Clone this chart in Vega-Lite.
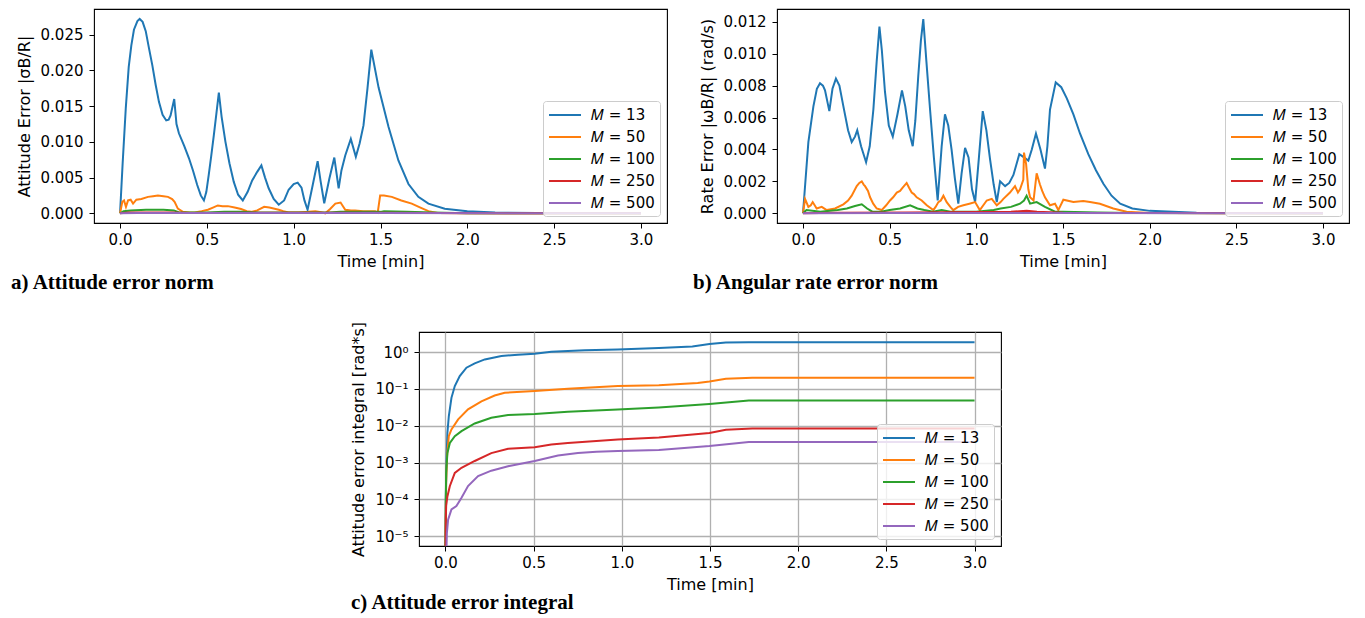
{
"$schema":"https://vega.github.io/schema/vega-lite/v6.json",
"background":"white",
"padding":{"left":10,"top":8,"right":5,"bottom":0},
"spacing":26,
"resolve":{"scale":{"color":"independent"},"legend":{"color":"independent"}},
"datasets":{
"a":[
{"s":"13","t":0,"v":0},{"s":"13","t":0.015,"v":0.007},{"s":"13","t":0.033,"v":0.0147},{"s":"13","t":0.05,"v":0.0205},{"s":"13","t":0.065,"v":0.0235},{"s":"13","t":0.08,"v":0.0257},{"s":"13","t":0.1,"v":0.0269},{"s":"13","t":0.113,"v":0.0272},{"s":"13","t":0.13,"v":0.0268},{"s":"13","t":0.148,"v":0.0255},{"s":"13","t":0.166,"v":0.0232},{"s":"13","t":0.186,"v":0.0207},{"s":"13","t":0.205,"v":0.018},{"s":"13","t":0.224,"v":0.0156},{"s":"13","t":0.245,"v":0.0138},{"s":"13","t":0.266,"v":0.013},{"s":"13","t":0.28,"v":0.0131},{"s":"13","t":0.291,"v":0.0137},{"s":"13","t":0.312,"v":0.016},{"s":"13","t":0.325,"v":0.0125},{"s":"13","t":0.339,"v":0.0112},{"s":"13","t":0.37,"v":0.0094},{"s":"13","t":0.397,"v":0.0077},{"s":"13","t":0.42,"v":0.006},{"s":"13","t":0.444,"v":0.004},{"s":"13","t":0.465,"v":0.0025},{"s":"13","t":0.483,"v":0.0018},{"s":"13","t":0.497,"v":0.003},{"s":"13","t":0.511,"v":0.0054},{"s":"13","t":0.525,"v":0.008},{"s":"13","t":0.54,"v":0.0109},{"s":"13","t":0.555,"v":0.014},{"s":"13","t":0.569,"v":0.0169},{"s":"13","t":0.585,"v":0.0135},{"s":"13","t":0.607,"v":0.01},{"s":"13","t":0.63,"v":0.007},{"s":"13","t":0.655,"v":0.0044},{"s":"13","t":0.68,"v":0.0026},{"s":"13","t":0.707,"v":0.0018},{"s":"13","t":0.735,"v":0.003},{"s":"13","t":0.761,"v":0.0046},{"s":"13","t":0.79,"v":0.0058},{"s":"13","t":0.814,"v":0.0067},{"s":"13","t":0.835,"v":0.005},{"s":"13","t":0.856,"v":0.0035},{"s":"13","t":0.885,"v":0.002},{"s":"13","t":0.914,"v":0.0012},{"s":"13","t":0.945,"v":0.0018},{"s":"13","t":0.971,"v":0.0033},{"s":"13","t":1.0,"v":0.0041},{"s":"13","t":1.023,"v":0.0043},{"s":"13","t":1.045,"v":0.0036},{"s":"13","t":1.062,"v":0.0018},{"s":"13","t":1.08,"v":0.0005},{"s":"13","t":1.11,"v":0.004},{"s":"13","t":1.138,"v":0.0073},{"s":"13","t":1.155,"v":0.0045},{"s":"13","t":1.176,"v":0.0014},{"s":"13","t":1.205,"v":0.0048},{"s":"13","t":1.234,"v":0.0078},{"s":"13","t":1.259,"v":0.0035},{"s":"13","t":1.275,"v":0.006},{"s":"13","t":1.297,"v":0.0081},{"s":"13","t":1.329,"v":0.0104},{"s":"13","t":1.358,"v":0.0079},{"s":"13","t":1.38,"v":0.0098},{"s":"13","t":1.402,"v":0.0123},{"s":"13","t":1.425,"v":0.0175},{"s":"13","t":1.447,"v":0.0229},{"s":"13","t":1.489,"v":0.0176},{"s":"13","t":1.546,"v":0.0121},{"s":"13","t":1.603,"v":0.0074},{"s":"13","t":1.661,"v":0.0041},{"s":"13","t":1.718,"v":0.0023},{"s":"13","t":1.776,"v":0.00135},{"s":"13","t":1.87,"v":0.00065},{"s":"13","t":2.0,"v":0.0003},{"s":"13","t":2.16,"v":0.0001},{"s":"13","t":2.4,"v":0.00003},{"s":"13","t":3.0,"v":0},
{"s":"50","t":0,"v":0},{"s":"50","t":0.013,"v":0.0016},{"s":"50","t":0.023,"v":0.0018},{"s":"50","t":0.034,"v":0.0009},{"s":"50","t":0.046,"v":0.0018},{"s":"50","t":0.061,"v":0.0019},{"s":"50","t":0.075,"v":0.00135},{"s":"50","t":0.094,"v":0.0019},{"s":"50","t":0.123,"v":0.002},{"s":"50","t":0.161,"v":0.0023},{"s":"50","t":0.19,"v":0.0024},{"s":"50","t":0.218,"v":0.0025},{"s":"50","t":0.25,"v":0.0024},{"s":"50","t":0.276,"v":0.0023},{"s":"50","t":0.3,"v":0.002},{"s":"50","t":0.314,"v":0.0016},{"s":"50","t":0.333,"v":0.00065},{"s":"50","t":0.362,"v":0.0002},{"s":"50","t":0.4,"v":0.0001},{"s":"50","t":0.429,"v":0.0001},{"s":"50","t":0.47,"v":0.0003},{"s":"50","t":0.506,"v":0.0005},{"s":"50","t":0.535,"v":0.0008},{"s":"50","t":0.563,"v":0.0011},{"s":"50","t":0.59,"v":0.001},{"s":"50","t":0.621,"v":0.001},{"s":"50","t":0.66,"v":0.0008},{"s":"50","t":0.697,"v":0.0006},{"s":"50","t":0.73,"v":0.0003},{"s":"50","t":0.755,"v":0.0002},{"s":"50","t":0.79,"v":0.0004},{"s":"50","t":0.83,"v":0.0009},{"s":"50","t":0.86,"v":0.0008},{"s":"50","t":0.914,"v":0.0005},{"s":"50","t":0.94,"v":0.0003},{"s":"50","t":0.971,"v":0.0001},{"s":"50","t":1.03,"v":0.0001},{"s":"50","t":1.086,"v":0.0002},{"s":"50","t":1.125,"v":0.0003},{"s":"50","t":1.15,"v":0.0002},{"s":"50","t":1.182,"v":0.0},{"s":"50","t":1.21,"v":0.0006},{"s":"50","t":1.24,"v":0.00135},{"s":"50","t":1.27,"v":0.0015},{"s":"50","t":1.297,"v":0.0005},{"s":"50","t":1.33,"v":0.0004},{"s":"50","t":1.354,"v":0.0004},{"s":"50","t":1.4,"v":0.0003},{"s":"50","t":1.469,"v":0.0003},{"s":"50","t":1.484,"v":0.0001},{"s":"50","t":1.498,"v":0.0025},{"s":"50","t":1.52,"v":0.0025},{"s":"50","t":1.565,"v":0.0023},{"s":"50","t":1.62,"v":0.0018},{"s":"50","t":1.68,"v":0.00135},{"s":"50","t":1.73,"v":0.0008},{"s":"50","t":1.776,"v":0.0003},{"s":"50","t":1.83,"v":0.00005},{"s":"50","t":2.0,"v":0.00001},{"s":"50","t":3.0,"v":0},
{"s":"100","t":0,"v":0},{"s":"100","t":0.02,"v":0.0003},{"s":"100","t":0.06,"v":0.0004},{"s":"100","t":0.15,"v":0.0005},{"s":"100","t":0.25,"v":0.0005},{"s":"100","t":0.31,"v":0.0004},{"s":"100","t":0.34,"v":0.00012},{"s":"100","t":0.5,"v":0.0001},{"s":"100","t":0.6,"v":0.0002},{"s":"100","t":0.7,"v":0.0002},{"s":"100","t":0.8,"v":0.0001},{"s":"100","t":1.0,"v":0.0001},{"s":"100","t":1.2,"v":0.0001},{"s":"100","t":1.27,"v":0.0002},{"s":"100","t":1.5,"v":0.0002},{"s":"100","t":1.52,"v":0.0003},{"s":"100","t":1.65,"v":0.0002},{"s":"100","t":1.8,"v":0.0001},{"s":"100","t":2.0,"v":0.00002},{"s":"100","t":3.0,"v":0},
{"s":"250","t":0,"v":0},{"s":"250","t":0.05,"v":0.0001},{"s":"250","t":0.3,"v":0.0001},{"s":"250","t":0.4,"v":0.00005},{"s":"250","t":1.5,"v":0.00008},{"s":"250","t":1.8,"v":0.00003},{"s":"250","t":3.0,"v":0},
{"s":"500","t":0,"v":0},{"s":"500","t":0.1,"v":0.00003},{"s":"500","t":1.5,"v":0.00003},{"s":"500","t":3.0,"v":0}
],
"b":[
{"s":"13","t":0,"v":0},{"s":"13","t":0.031,"v":0.00446},{"s":"13","t":0.06,"v":0.0067},{"s":"13","t":0.08,"v":0.0078},{"s":"13","t":0.098,"v":0.00815},{"s":"13","t":0.115,"v":0.008},{"s":"13","t":0.127,"v":0.0077},{"s":"13","t":0.152,"v":0.0064},{"s":"13","t":0.17,"v":0.0078},{"s":"13","t":0.19,"v":0.00844},{"s":"13","t":0.21,"v":0.008},{"s":"13","t":0.233,"v":0.0067},{"s":"13","t":0.26,"v":0.0052},{"s":"13","t":0.281,"v":0.00446},{"s":"13","t":0.3,"v":0.0048},{"s":"13","t":0.313,"v":0.0052},{"s":"13","t":0.335,"v":0.0042},{"s":"13","t":0.364,"v":0.0032},{"s":"13","t":0.385,"v":0.0042},{"s":"13","t":0.406,"v":0.0065},{"s":"13","t":0.425,"v":0.0095},{"s":"13","t":0.441,"v":0.0117},{"s":"13","t":0.455,"v":0.0102},{"s":"13","t":0.473,"v":0.0076},{"s":"13","t":0.495,"v":0.0055},{"s":"13","t":0.518,"v":0.0048},{"s":"13","t":0.545,"v":0.0062},{"s":"13","t":0.571,"v":0.0077},{"s":"13","t":0.59,"v":0.0067},{"s":"13","t":0.61,"v":0.0052},{"s":"13","t":0.633,"v":0.0042},{"s":"13","t":0.648,"v":0.0058},{"s":"13","t":0.665,"v":0.0086},{"s":"13","t":0.68,"v":0.0108},{"s":"13","t":0.694,"v":0.01217},{"s":"13","t":0.712,"v":0.0095},{"s":"13","t":0.733,"v":0.0065},{"s":"13","t":0.755,"v":0.0035},{"s":"13","t":0.777,"v":0.0008},{"s":"13","t":0.8,"v":0.0042},{"s":"13","t":0.819,"v":0.0062},{"s":"13","t":0.838,"v":0.0055},{"s":"13","t":0.857,"v":0.004},{"s":"13","t":0.876,"v":0.0022},{"s":"13","t":0.896,"v":0.0006},{"s":"13","t":0.915,"v":0.0025},{"s":"13","t":0.935,"v":0.0041},{"s":"13","t":0.955,"v":0.0035},{"s":"13","t":0.975,"v":0.0015},{"s":"13","t":0.993,"v":0.0007},{"s":"13","t":1.015,"v":0.0035},{"s":"13","t":1.037,"v":0.0064},{"s":"13","t":1.058,"v":0.0052},{"s":"13","t":1.079,"v":0.0034},{"s":"13","t":1.1,"v":0.0018},{"s":"13","t":1.118,"v":0.0007},{"s":"13","t":1.137,"v":0.002},{"s":"13","t":1.166,"v":0.0017},{"s":"13","t":1.19,"v":0.0019},{"s":"13","t":1.214,"v":0.0024},{"s":"13","t":1.248,"v":0.0037},{"s":"13","t":1.275,"v":0.0035},{"s":"13","t":1.3,"v":0.0033},{"s":"13","t":1.32,"v":0.004},{"s":"13","t":1.344,"v":0.005},{"s":"13","t":1.37,"v":0.004},{"s":"13","t":1.396,"v":0.0028},{"s":"13","t":1.41,"v":0.0042},{"s":"13","t":1.425,"v":0.0065},{"s":"13","t":1.458,"v":0.0082},{"s":"13","t":1.49,"v":0.0079},{"s":"13","t":1.522,"v":0.0072},{"s":"13","t":1.56,"v":0.0062},{"s":"13","t":1.598,"v":0.005},{"s":"13","t":1.646,"v":0.0037},{"s":"13","t":1.69,"v":0.0027},{"s":"13","t":1.733,"v":0.00185},{"s":"13","t":1.78,"v":0.0011},{"s":"13","t":1.83,"v":0.0006},{"s":"13","t":1.9,"v":0.0003},{"s":"13","t":2.0,"v":0.00015},{"s":"13","t":2.27,"v":0.00003},{"s":"13","t":3.0,"v":0},
{"s":"50","t":0,"v":0},{"s":"50","t":0.012,"v":0.0009},{"s":"50","t":0.031,"v":0.0004},{"s":"50","t":0.045,"v":0.0005},{"s":"50","t":0.056,"v":0.0007},{"s":"50","t":0.079,"v":0.0003},{"s":"50","t":0.108,"v":0.0004},{"s":"50","t":0.137,"v":0.0002},{"s":"50","t":0.185,"v":0.0003},{"s":"50","t":0.233,"v":0.00056},{"s":"50","t":0.26,"v":0.0008},{"s":"50","t":0.281,"v":0.0011},{"s":"50","t":0.31,"v":0.0017},{"s":"50","t":0.325,"v":0.0019},{"s":"50","t":0.339,"v":0.002},{"s":"50","t":0.35,"v":0.0018},{"s":"50","t":0.358,"v":0.0017},{"s":"50","t":0.375,"v":0.0014},{"s":"50","t":0.387,"v":0.001},{"s":"50","t":0.405,"v":0.0006},{"s":"50","t":0.425,"v":0.0003},{"s":"50","t":0.454,"v":0.0002},{"s":"50","t":0.48,"v":0.0005},{"s":"50","t":0.502,"v":0.0008},{"s":"50","t":0.52,"v":0.001},{"s":"50","t":0.541,"v":0.0013},{"s":"50","t":0.56,"v":0.0014},{"s":"50","t":0.575,"v":0.0016},{"s":"50","t":0.598,"v":0.0019},{"s":"50","t":0.612,"v":0.0016},{"s":"50","t":0.627,"v":0.0013},{"s":"50","t":0.64,"v":0.0012},{"s":"50","t":0.656,"v":0.001},{"s":"50","t":0.685,"v":0.0008},{"s":"50","t":0.714,"v":0.0005},{"s":"50","t":0.752,"v":0.0002},{"s":"50","t":0.765,"v":0.0004},{"s":"50","t":0.781,"v":0.0007},{"s":"50","t":0.795,"v":0.0008},{"s":"50","t":0.81,"v":0.0011},{"s":"50","t":0.829,"v":0.0007},{"s":"50","t":0.85,"v":0.0004},{"s":"50","t":0.867,"v":0.0002},{"s":"50","t":0.895,"v":0.0004},{"s":"50","t":0.925,"v":0.0005},{"s":"50","t":0.96,"v":0.0006},{"s":"50","t":0.993,"v":0.0007},{"s":"50","t":1.02,"v":0.0002},{"s":"50","t":1.06,"v":0.0008},{"s":"50","t":1.089,"v":0.0009},{"s":"50","t":1.118,"v":0.0005},{"s":"50","t":1.14,"v":0.0007},{"s":"50","t":1.156,"v":0.0009},{"s":"50","t":1.194,"v":0.0013},{"s":"50","t":1.223,"v":0.0017},{"s":"50","t":1.24,"v":0.0013},{"s":"50","t":1.252,"v":0.0015},{"s":"50","t":1.271,"v":0.0021},{"s":"50","t":1.275,"v":0.0038},{"s":"50","t":1.287,"v":0.0031},{"s":"50","t":1.3,"v":0.0015},{"s":"50","t":1.31,"v":0.001},{"s":"50","t":1.33,"v":0.0008},{"s":"50","t":1.348,"v":0.0025},{"s":"50","t":1.367,"v":0.0018},{"s":"50","t":1.38,"v":0.0014},{"s":"50","t":1.396,"v":0.001},{"s":"50","t":1.425,"v":0.0005},{"s":"50","t":1.454,"v":0.0006},{"s":"50","t":1.473,"v":0.0002},{"s":"50","t":1.502,"v":0.00085},{"s":"50","t":1.56,"v":0.0007},{"s":"50","t":1.617,"v":0.00077},{"s":"50","t":1.656,"v":0.0007},{"s":"50","t":1.713,"v":0.0006},{"s":"50","t":1.79,"v":0.0003},{"s":"50","t":1.867,"v":0.0001},{"s":"50","t":2.0,"v":0.00002},{"s":"50","t":3.0,"v":0},
{"s":"100","t":0,"v":0},{"s":"100","t":0.02,"v":0.0002},{"s":"100","t":0.1,"v":0.0001},{"s":"100","t":0.2,"v":0.0002},{"s":"100","t":0.253,"v":0.0003},{"s":"100","t":0.3,"v":0.00045},{"s":"100","t":0.339,"v":0.00056},{"s":"100","t":0.37,"v":0.0003},{"s":"100","t":0.4,"v":0.0001},{"s":"100","t":0.45,"v":0.0001},{"s":"100","t":0.5,"v":0.0002},{"s":"100","t":0.56,"v":0.0003},{"s":"100","t":0.618,"v":0.0005},{"s":"100","t":0.66,"v":0.0003},{"s":"100","t":0.7,"v":0.0002},{"s":"100","t":0.75,"v":0.0001},{"s":"100","t":0.8,"v":0.0002},{"s":"100","t":0.85,"v":0.0001},{"s":"100","t":1.0,"v":0.0001},{"s":"100","t":1.1,"v":0.0002},{"s":"100","t":1.14,"v":0.0003},{"s":"100","t":1.2,"v":0.0004},{"s":"100","t":1.252,"v":0.0006},{"s":"100","t":1.275,"v":0.0008},{"s":"100","t":1.29,"v":0.0011},{"s":"100","t":1.31,"v":0.0006},{"s":"100","t":1.348,"v":0.0007},{"s":"100","t":1.396,"v":0.0004},{"s":"100","t":1.454,"v":0.0001},{"s":"100","t":1.5,"v":0.0001},{"s":"100","t":1.7,"v":0.00005},{"s":"100","t":1.9,"v":0.00001},{"s":"100","t":3.0,"v":0},
{"s":"250","t":0,"v":0},{"s":"250","t":0.2,"v":0.00003},{"s":"250","t":0.6,"v":0.00005},{"s":"250","t":1.2,"v":0.0001},{"s":"250","t":1.29,"v":0.00015},{"s":"250","t":1.35,"v":0.0001},{"s":"250","t":1.5,"v":0.00003},{"s":"250","t":3.0,"v":0},
{"s":"500","t":0,"v":0},{"s":"500","t":0.5,"v":0.00002},{"s":"500","t":1.5,"v":0.00002},{"s":"500","t":3.0,"v":0}
],
"c":[
{"s":"13","t":0,"v":0.000003},{"s":"13","t":0.002,"v":0.0001},{"s":"13","t":0.006,"v":0.0012},{"s":"13","t":0.011,"v":0.0064},{"s":"13","t":0.019,"v":0.018},{"s":"13","t":0.034,"v":0.057},{"s":"13","t":0.053,"v":0.119},{"s":"13","t":0.081,"v":0.223},{"s":"13","t":0.119,"v":0.375},{"s":"13","t":0.166,"v":0.49},{"s":"13","t":0.223,"v":0.63},{"s":"13","t":0.317,"v":0.78},{"s":"13","t":0.411,"v":0.85},{"s":"13","t":0.506,"v":0.9},{"s":"13","t":0.6,"v":1.02},{"s":"13","t":0.789,"v":1.11},{"s":"13","t":0.977,"v":1.18},{"s":"13","t":1.21,"v":1.28},{"s":"13","t":1.4,"v":1.42},{"s":"13","t":1.497,"v":1.65},{"s":"13","t":1.59,"v":1.82},{"s":"13","t":1.72,"v":1.85},{"s":"13","t":3.0,"v":1.85},
{"s":"50","t":0,"v":0.000003},{"s":"50","t":0.002,"v":0.00005},{"s":"50","t":0.004,"v":0.00028},{"s":"50","t":0.009,"v":0.0015},{"s":"50","t":0.019,"v":0.0052},{"s":"50","t":0.034,"v":0.0079},{"s":"50","t":0.072,"v":0.0148},{"s":"50","t":0.128,"v":0.0277},{"s":"50","t":0.204,"v":0.046},{"s":"50","t":0.279,"v":0.066},{"s":"50","t":0.336,"v":0.0785},{"s":"50","t":0.506,"v":0.087},{"s":"50","t":0.694,"v":0.101},{"s":"50","t":0.977,"v":0.119},{"s":"50","t":1.21,"v":0.126},{"s":"50","t":1.43,"v":0.144},{"s":"50","t":1.497,"v":0.159},{"s":"50","t":1.59,"v":0.188},{"s":"50","t":1.74,"v":0.2},{"s":"50","t":3.0,"v":0.2},
{"s":"100","t":0,"v":0.000003},{"s":"100","t":0.002,"v":0.0001},{"s":"100","t":0.004,"v":0.00053},{"s":"100","t":0.011,"v":0.0018},{"s":"100","t":0.025,"v":0.0034},{"s":"100","t":0.053,"v":0.0052},{"s":"100","t":0.091,"v":0.0071},{"s":"100","t":0.166,"v":0.0115},{"s":"100","t":0.26,"v":0.0164},{"s":"100","t":0.355,"v":0.0194},{"s":"100","t":0.506,"v":0.0207},{"s":"100","t":0.694,"v":0.024},{"s":"100","t":0.977,"v":0.0276},{"s":"100","t":1.21,"v":0.0313},{"s":"100","t":1.497,"v":0.039},{"s":"100","t":1.72,"v":0.0484},{"s":"100","t":3.0,"v":0.0484},
{"s":"250","t":0,"v":0.000003},{"s":"250","t":0.002,"v":0.00003},{"s":"250","t":0.004,"v":0.000066},{"s":"250","t":0.011,"v":0.00012},{"s":"250","t":0.025,"v":0.00023},{"s":"250","t":0.053,"v":0.00052},{"s":"250","t":0.091,"v":0.00072},{"s":"250","t":0.166,"v":0.0011},{"s":"250","t":0.26,"v":0.0018},{"s":"250","t":0.355,"v":0.00235},{"s":"250","t":0.506,"v":0.0026},{"s":"250","t":0.6,"v":0.0031},{"s":"250","t":0.694,"v":0.0034},{"s":"250","t":0.977,"v":0.0042},{"s":"250","t":1.21,"v":0.0048},{"s":"250","t":1.497,"v":0.0063},{"s":"250","t":1.59,"v":0.0077},{"s":"250","t":1.74,"v":0.0084},{"s":"250","t":3.0,"v":0.0084},
{"s":"500","t":0.005,"v":0.000003},{"s":"500","t":0.008,"v":0.000012},{"s":"500","t":0.015,"v":0.000028},{"s":"500","t":0.034,"v":0.000053},{"s":"500","t":0.062,"v":0.000066},{"s":"500","t":0.091,"v":0.00011},{"s":"500","t":0.128,"v":0.00023},{"s":"500","t":0.185,"v":0.00043},{"s":"500","t":0.26,"v":0.0006},{"s":"500","t":0.355,"v":0.00079},{"s":"500","t":0.506,"v":0.0011},{"s":"500","t":0.638,"v":0.00155},{"s":"500","t":0.751,"v":0.0018},{"s":"500","t":0.856,"v":0.00195},{"s":"500","t":0.977,"v":0.00205},{"s":"500","t":1.21,"v":0.0022},{"s":"500","t":1.497,"v":0.0028},{"s":"500","t":1.72,"v":0.0036},{"s":"500","t":3.0,"v":0.0036}
]
},
"vconcat":[
{"hconcat":[
{"width":573,"height":214,"data":{"name":"a"},"mark":{"type":"line","clip":true,"strokeWidth":2},
"title":{"text":"a) Attitude error norm","dx":-5},
"encoding":{
"x":{"field":"t","type":"quantitative","scale":{"domain":[-0.15,3.15],"nice":false,"zero":false},"axis":{"values":[0,0.5,1,1.5,2,2.5,3],"format":".1f","title":"Time [min]"}},
"y":{"field":"v","type":"quantitative","scale":{"domain":[-0.00136,0.0286],"nice":false,"zero":false},"axis":{"values":[0,0.005,0.01,0.015,0.02,0.025],"format":".3f","title":"Attitude Error |σB/R|"}},
"color":{"field":"s","type":"nominal","sort":["13","50","100","250","500"],"scale":{"domain":["13","50","100","250","500"],"range":["#1f77b4","#ff7f0e","#2ca02c","#d62728","#9467bd"]},"legend":{"title":null,"labelExpr":"'𝑀 = ' + datum.label"}}
}},
{"width":572,"height":214,"data":{"name":"b"},"mark":{"type":"line","clip":true,"strokeWidth":2},
"title":{"text":"b) Angular rate error norm","dx":-6},
"encoding":{
"x":{"field":"t","type":"quantitative","scale":{"domain":[-0.15,3.15],"nice":false,"zero":false},"axis":{"values":[0,0.5,1,1.5,2,2.5,3],"format":".1f","title":"Time [min]"}},
"y":{"field":"v","type":"quantitative","scale":{"domain":[-0.00061,0.0128],"nice":false,"zero":false},"axis":{"values":[0,0.002,0.004,0.006,0.008,0.01,0.012],"format":".3f","title":"Rate Error |ωB/R| (rad/s)"}},
"color":{"field":"s","type":"nominal","sort":["13","50","100","250","500"],"scale":{"domain":["13","50","100","250","500"],"range":["#1f77b4","#ff7f0e","#2ca02c","#d62728","#9467bd"]},"legend":{"title":null,"labelExpr":"'𝑀 = ' + datum.label"}}
}}
],"spacing":24,"resolve":{"scale":{"color":"independent"},"legend":{"color":"independent"}}},
{"hconcat":[
{"width":256,"height":10,"data":{"values":[]},"mark":"point","view":{"stroke":null}},
{"width":582,"height":214,"data":{"name":"c"},"mark":{"type":"line","clip":true,"strokeWidth":2},
"title":{"text":"c) Attitude error integral","dx":0,"offset":0},
"encoding":{
"x":{"field":"t","type":"quantitative","scale":{"domain":[-0.15,3.15],"nice":false,"zero":false},"axis":{"values":[0,0.5,1,1.5,2,2.5,3],"format":".1f","title":"Time [min]","grid":true,"gridColor":"#b0b0b0","gridWidth":1.3}},
"y":{"field":"v","type":"quantitative","scale":{"type":"log","domain":[0.0000054,3.5],"nice":false},"axis":{"values":[0.00001,0.0001,0.001,0.01,0.1,1],"labelExpr":"'10' + ['⁰','⁻¹','⁻²','⁻³','⁻⁴','⁻⁵'][round(-log(datum.value)/LN10)]","title":"Attitude error integral [rad*s]","grid":true,"gridColor":"#b0b0b0","gridWidth":1.3}},
"color":{"field":"s","type":"nominal","sort":["13","50","100","250","500"],"scale":{"domain":["13","50","100","250","500"],"range":["#1f77b4","#ff7f0e","#2ca02c","#d62728","#9467bd"]},"legend":{"title":null,"labelExpr":"'𝑀 = ' + datum.label"}}
}}
],"spacing":0,"resolve":{"scale":{"color":"independent"},"legend":{"color":"independent"}}}
],
"config":{
"font":"DejaVu Sans",
"view":{"stroke":"#000000","strokeWidth":1.1},
"axis":{"domain":false,"grid":false,"tickColor":"#000000","tickSize":5,"tickWidth":1,"labelFont":"DejaVu Sans","labelFontSize":15,"labelColor":"#000000","titleFont":"DejaVu Sans","titleFontSize":16,"titleFontWeight":"normal","titleColor":"#000000"},
"axisX":{"labelPadding":4,"titlePadding":6},
"axisY":{"labelPadding":6,"titlePadding":8},
"legend":{"orient":"bottom-right","offset":7,"fillColor":"rgba(255,255,255,0.8)","strokeColor":"#cccccc","cornerRadius":3,"padding":5,"labelFont":"DejaVu Sans","labelFontSize":15,"labelColor":"#000000","symbolType":"M-1,0H3","symbolStrokeWidth":2,"symbolSize":256,"rowPadding":5,"labelOffset":25},
"title":{"font":"Liberation Serif","fontSize":21,"fontWeight":"bold","color":"#000000","orient":"bottom","anchor":"start","frame":"bounds","offset":3}
}
}
